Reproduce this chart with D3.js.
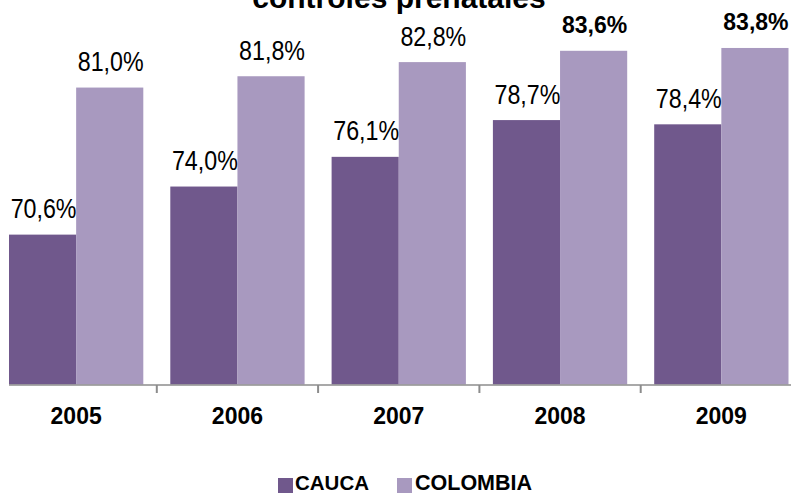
<!DOCTYPE html>
<html>
<head>
<meta charset="utf-8">
<script src="https://cdn.jsdelivr.net/npm/d3@7"></script>
<style>
  html, body { margin: 0; padding: 0; background: #fff; }
  svg { display: block; }
</style>
</head>
<body>
<svg id="chart" width="791" height="495"></svg>
<script>
const years = ["2005", "2006", "2007", "2008", "2009"];
const seriesNames = ["CAUCA", "COLOMBIA"];
const cauca = [70.6, 74.0, 76.1, 78.7, 78.4];
const colombia = [81.0, 81.8, 82.8, 83.6, 83.8];
const colors = ["#70588C", "#A899BF"];
const title = "controles prenatales";

const svg = d3.select("#chart");
const font = "'Liberation Sans', Arial, sans-serif";

const x0 = d3.scaleBand().domain(years).range([-4.5, 802]).padding(0);
const bw = x0.bandwidth();
const x1 = d3.scaleBand().domain(seriesNames).range([13.5, bw - 13.5]).padding(0);
const y = d3.scaleLinear().domain([60, 85]).range([384.5, 384.5 - 25 * 14.14]);

const data = years.map((yr, i) => ({ year: yr, values: [cauca[i], colombia[i]] }));

// bars
const groups = svg.selectAll("g.grp").data(data).join("g")
  .attr("class", "grp")
  .attr("transform", d => `translate(${x0(d.year)},0)`);

groups.selectAll("rect").data(d => d.values.map((v, j) => ({ v, s: seriesNames[j], j })))
  .join("rect")
  .attr("x", d => x1(d.s))
  .attr("width", x1.bandwidth())
  .attr("y", d => y(d.v))
  .attr("height", d => y(60) - y(d.v))
  .attr("fill", d => colors[d.j]);

// value labels
const fmt = v => d3.format(".1f")(v).replace(".", ",") + "%";
groups.selectAll("text.val").data(d => d.values.map((v, j) => ({ v, s: seriesNames[j], j })))
  .join("text")
  .attr("class", "val")
  .attr("text-anchor", "middle")
  .attr("font-family", font)
  .attr("fill", "#000")
  .each(function(d) {
    const cx = x1(d.s) + x1.bandwidth() / 2;
    const bold = d.v >= 83.5;
    const sel = d3.select(this);
    if (bold) {
      sel.attr("font-size", 23).attr("font-weight", "bold")
        .attr("transform", `translate(${cx + 1},${y(d.v) - 18})`);
    } else {
      sel.attr("font-size", 28)
        .attr("transform", `translate(${cx + 1},${y(d.v) - 16.5}) scale(0.83,1)`);
    }
  })
  .text(d => fmt(d.v));

// axis line
const axisY = 385;
svg.append("line")
  .attr("x1", 9).attr("x2", 791)
  .attr("y1", axisY).attr("y2", axisY)
  .attr("stroke", "#8c8c8c").attr("stroke-width", 1.5);

// ticks at category boundaries
const bounds = years.slice(1).map(yr => x0(yr));
svg.selectAll("line.tick").data(bounds).join("line")
  .attr("class", "tick")
  .attr("x1", d => d).attr("x2", d => d)
  .attr("y1", axisY).attr("y2", 393)
  .attr("stroke", "#8c8c8c").attr("stroke-width", 2);

// year labels
svg.selectAll("text.year").data(years).join("text")
  .attr("class", "year")
  .attr("x", d => x0(d) + bw / 2)
  .attr("y", 423.5)
  .attr("text-anchor", "middle")
  .attr("font-family", font)
  .attr("font-weight", "bold")
  .attr("font-size", 23)
  .attr("fill", "#000")
  .text(d => d);

// title
svg.append("text")
  .attr("x", 399).attr("y", 8)
  .attr("text-anchor", "middle")
  .attr("font-family", font)
  .attr("font-weight", "bold")
  .attr("font-size", 30)
  .attr("fill", "#000")
  .text(title);

// legend
const legendItems = [
  { name: seriesNames[0], color: colors[0], sx: 278, tx: 295, fs: 20.5 },
  { name: seriesNames[1], color: colors[1], sx: 397, tx: 415, fs: 21.5 }
];
const lg = svg.selectAll("g.leg").data(legendItems).join("g").attr("class", "leg");
lg.append("rect")
  .attr("x", d => d.sx).attr("y", 478)
  .attr("width", 15).attr("height", 15)
  .attr("fill", d => d.color);
lg.append("text")
  .attr("x", d => d.tx).attr("y", 490)
  .attr("font-family", font)
  .attr("font-weight", "bold")
  .attr("font-size", d => d.fs)
  .attr("fill", "#000")
  .text(d => d.name);
</script>
</body>
</html>
